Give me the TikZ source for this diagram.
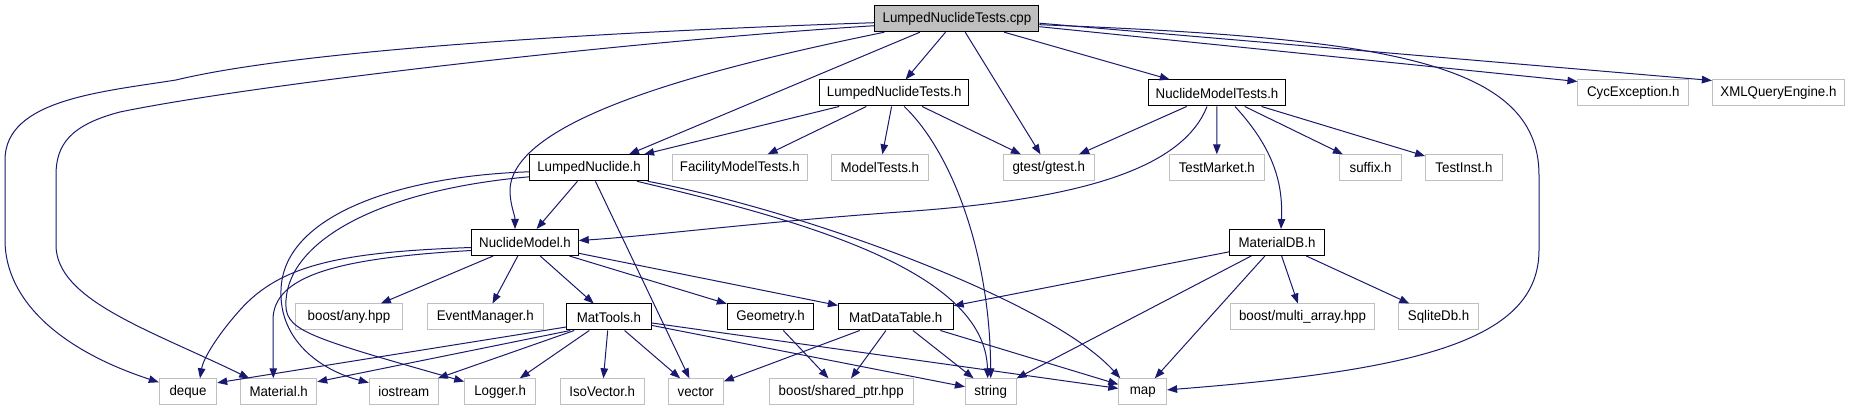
\documentclass[tikz,border=0pt]{standalone}
\usepackage{fontspec}
\setmainfont{Liberation Sans}[FakeStretch=0.95]
\usetikzlibrary{arrows.meta}
\definecolor{edgeblue}{HTML}{191970}
\definecolor{boxgrey}{HTML}{BFBFBF}
\begin{document}
\begin{tikzpicture}[x=1pt,y=-1pt,
  box/.style={draw, line width=1pt, minimum height=26pt, inner sep=0pt, font=\fontsize{14}{16}\selectfont},
  inc/.style={box, draw=black},
  ext/.style={box, draw=boxgrey},
  e/.style={draw=edgeblue, line width=1pt, -{Triangle[length=10pt,width=7.5pt]}}]
\useasboundingbox[fill=white] (0,0) rectangle (1849,411);

\node[inc, fill=boxgrey, minimum width=164pt] (cpp) at (956.9,18.7) {LumpedNuclideTests.cpp};
\node[inc, minimum width=149.4pt] (lnth) at (894.2,93) {LumpedNuclideTests.h};
\node[inc, minimum width=137.3pt] (nmth) at (1217,93) {NuclideModelTests.h};
\node[ext, minimum width=110.5pt] (cyc) at (1633.2,93) {CycException.h};
\node[ext, minimum width=132pt] (xml) at (1778.4,93) {XMLQueryEngine.h};
\node[inc, minimum width=118.4pt] (ln) at (589,167.8) {LumpedNuclide.h};
\node[ext, minimum width=134.8pt] (fac) at (739.8,167.8) {FacilityModelTests.h};
\node[ext, minimum width=96.9pt] (mt) at (879.8,167.8) {ModelTests.h};
\node[ext, minimum width=91pt] (gtest) at (1048.8,167.8) {gtest/gtest.h};
\node[ext, minimum width=94.8pt] (tmk) at (1216.8,167.8) {TestMarket.h};
\node[ext, minimum width=61.3pt] (suffix) at (1370.6,167.8) {suffix.h};
\node[ext, minimum width=76.6pt] (tinst) at (1463.9,167.8) {TestInst.h};
\node[inc, minimum width=106.6pt] (nm) at (525,242.5) {NuclideModel.h};
\node[inc, minimum width=94.4pt] (mdb) at (1277,242.5) {MaterialDB.h};
\node[ext, minimum width=107.4pt] (any) at (349,317) {boost/any.hpp};
\node[ext, minimum width=116pt] (evm) at (485.3,317) {EventManager.h};
\node[inc, minimum width=84.3pt] (mtools) at (608.9,317) {MatTools.h};
\node[inc, minimum width=86.6pt] (geo) at (770.6,317) {Geometry.h};
\node[inc, minimum width=114.7pt] (mdt) at (895.8,317) {MatDataTable.h};
\node[ext, minimum width=144.5pt] (multi) at (1302.5,317) {boost/multi\_array.hpp};
\node[ext, minimum width=80.7pt] (sqlite) at (1438.6,317) {SqliteDb.h};
\node[ext, minimum width=57.4pt] (deque) at (188,391.8) {deque};
\node[ext, minimum width=76pt] (mat) at (278.7,391.8) {Material.h};
\node[ext, minimum width=69pt] (ios) at (403.8,391.8) {iostream};
\node[ext, minimum width=71pt] (logger) at (500.2,391.8) {Logger.h};
\node[ext, minimum width=84.3pt] (iso) at (602.2,391.8) {IsoVector.h};
\node[ext, minimum width=55pt] (vec) at (695.8,391.8) {vector};
\node[ext, minimum width=144pt] (sptr) at (841.2,391.8) {boost/shared\_ptr.hpp};
\node[ext, minimum width=50.6pt] (str) at (990.7,391.8) {string};
\node[ext, minimum width=47.8pt] (map) at (1142.7,391.8) {map};

% from LumpedNuclideTests.cpp
\draw[e] ([yshift=-4pt]cpp.west) .. controls (600,32) and (300,50) .. (176,80) .. controls (100,92) and (5,100) .. (5,160) -- (5,240) .. controls (5,300) and (60,350) .. (deque);
\draw[e] ([yshift=-7pt]cpp.west) .. controls (620,42) and (250,85) .. (120,112) .. controls (70,125) and (56,145) .. (56,175) -- (56,245) .. controls (56,300) and (150,330) .. ([xshift=9pt]mat.north west);
\draw[e] ([xshift=10pt]cpp.south west) .. controls (700,70) and (512,120) .. (510,190) .. controls (510,205) and (515,215) .. ([xshift=-10pt]nm.north);
\draw[e] ([xshift=-37pt]cpp.south) -- ([xshift=40pt]ln.north);
\draw[e] (cpp) -- (lnth);
\draw[e] (cpp) -- (gtest);
\draw[e] (cpp) -- (nmth);
\draw[e] ([yshift=-8pt]cpp.east) -- ([yshift=-2pt]cyc.north west);
\draw[e] ([yshift=-4.5pt]cpp.east) -- ([yshift=-1pt]xml.north west);
\draw[e] ([yshift=-6pt]cpp.east) .. controls (1380,38) and (1539,60) .. (1539,175) -- (1539,250) .. controls (1539,340) and (1420,370) .. (map);

% from LumpedNuclideTests.h
\draw[e] (lnth) -- (ln);
\draw[e] (lnth) -- (fac);
\draw[e] (lnth) -- (mt);
\draw[e] (lnth) -- (gtest);
\draw[e] ([xshift=10pt]lnth.south) .. controls (950,150) and (990,250) .. (str.north);

% from NuclideModelTests.h
\draw[e] (nmth) -- (gtest);
\draw[e] (nmth) -- (tmk);
\draw[e] ([xshift=-10pt]nmth.south) .. controls (1180,175) and (1060,201) .. (900,212) .. controls (760,222) and (650,236) .. ([yshift=2pt]nm.east);
\draw[e] ([xshift=18pt]nmth.south) .. controls (1275,150) and (1283,185) .. ([xshift=4pt]mdb.north);
\draw[e] (nmth) -- (suffix);
\draw[e] (nmth) -- (tinst);

% from LumpedNuclide.h
\draw[e] (ln) -- (nm);
\draw[e] (ln) -- (vec);
\draw[e] ([xshift=48pt]ln.south) .. controls (800,220) and (985,270) .. ([xshift=-3pt]str.north);
\draw[e] ([xshift=-1pt]ln.south east) .. controls (800,210) and (1050,300) .. ([xshift=2pt]map.north west);
\draw[e] ([yshift=-4pt]ln.west) .. controls (400,176) and (283,215) .. (281,290) .. controls (279,340) and (320,370) .. (ios);
\draw[e] ([yshift=-9pt]ln.west) .. controls (380,190) and (290,240) .. (286,300) .. controls (284,330) and (300,335) .. (logger);

% from NuclideModel.h
\draw[e] ([yshift=-5pt]nm.west) .. controls (340,252) and (280,265) .. (240,310) .. controls (215,338) and (203,360) .. ([xshift=12pt]deque.north);
\draw[e] ([yshift=-8pt]nm.west) .. controls (340,258) and (273,275) .. (273,320) -- ([xshift=-5.4pt]mat.north);
\draw[e] (nm) -- (any);
\draw[e] (nm) -- (evm);
\draw[e] (nm) -- (mtools);
\draw[e] (nm) -- (geo);
\draw[e] (nm) -- (mdt);

% from MaterialDB.h
\draw[e] (mdb) -- (mdt);
\draw[e] (mdb) -- (str);
\draw[e] (mdb) -- (map);
\draw[e] (mdb) -- (multi);
\draw[e] (mdb) -- (sqlite);

% from MatTools.h
\draw[e] ([yshift=-10pt]mtools.west) -- ([yshift=9pt]deque.east);
\draw[e] ([xshift=4pt]mtools.south west) -- ([yshift=10pt]mat.east);
\draw[e] ([xshift=8pt]mtools.south west) -- ([xshift=-1pt]ios.north east);
\draw[e] (mtools) -- (logger);
\draw[e] (mtools) -- (iso);
\draw[e] (mtools) -- (vec);
\draw[e] (mtools) -- (str);
\draw[e] (mtools) -- (map);

% from Geometry.h and MatDataTable.h
\draw[e] (geo) -- (sptr);
\draw[e] (mdt) -- (vec);
\draw[e] (mdt) -- (sptr);
\draw[e] (mdt) -- (str);
\draw[e] (mdt) -- (map);
\end{tikzpicture}
\end{document}
